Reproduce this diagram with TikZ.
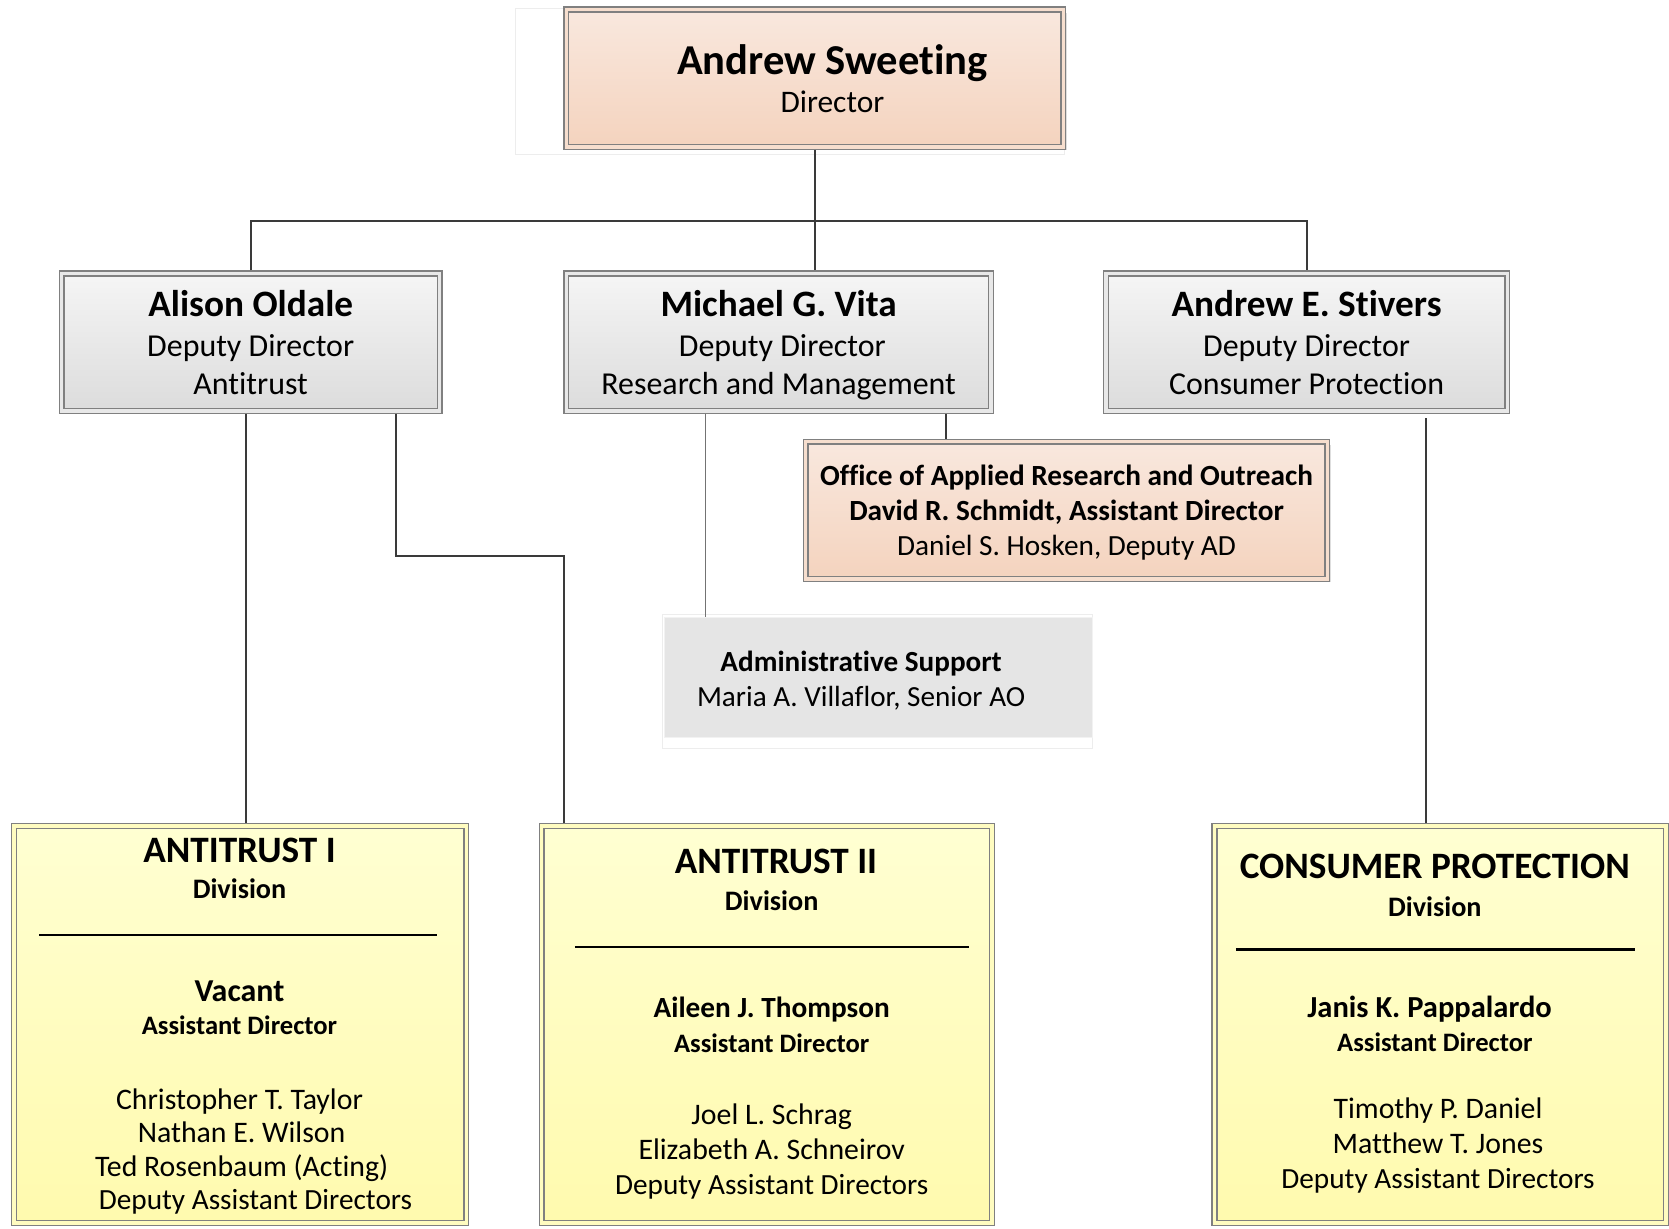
\documentclass[tikz,border=0pt]{standalone}
\usepackage{fontspec}
\setmainfont{Carlito}[Ligatures=NoCommon]
\usetikzlibrary{shadows}
\definecolor{pkT}{HTML}{F9E8DE}
\definecolor{pkB}{HTML}{F4D3BE}
\definecolor{gyT}{HTML}{F5F5F5}
\definecolor{gyB}{HTML}{DCDCDC}
\definecolor{ylT}{HTML}{FFFFD2}
\definecolor{ylB}{HTML}{FFFAAE}
\definecolor{admF}{HTML}{E5E5E5}
\definecolor{bord}{HTML}{808080}
\definecolor{lnk}{HTML}{3A3A3A}
\newcommand\fsz[1]{\fontsize{#1}{#1}\selectfont}
\tikzset{
  box/.style={rectangle, draw=bord, line width=1.3pt, double distance=3.2pt,
    inner sep=0pt, outer sep=2.9pt,
    general shadow={fill=black!13, shadow xshift=3pt, shadow yshift=-3pt}},
  peachbox/.style={box, double=pkB!50!pkT, top color=pkT, bottom color=pkB},
  graybox/.style={box, double=gyB!50!gyT, top color=gyT, bottom color=gyB},
  yellowbox/.style={box, double=ylB!50!ylT, top color=ylT, bottom color=ylB},
  admbox/.style={rectangle, fill=admF, draw=black!5, line width=0.8pt, inner sep=0pt, outer sep=0pt},
  faint/.style={draw=black!7, line width=0.8pt},
  txt/.style={anchor=base, inner sep=0pt, text=black},
  conn/.style={draw=lnk, line width=2pt},
  divline/.style={draw=black, line width=2pt},
}
\begin{document}
\begin{tikzpicture}[x=1pt, y=-1pt]
\useasboundingbox (0,0) rectangle (1568,1153.7);
% faint ghost frames
\draw[faint] (484,8) rectangle (1000,145);
\draw[faint] (622,577) rectangle (1026,703);

% boxes
\node[peachbox, minimum width=467pt, minimum height=129pt] (dir) at (765.5,73.5) {};
\node[graybox, minimum width=355pt, minimum height=129pt] (ado) at (235.5,321.5) {};
\node[graybox, minimum width=399pt, minimum height=129pt] (mgv) at (731.5,321.5) {};
\node[graybox, minimum width=377pt, minimum height=129pt] (sti) at (1227.5,321.5) {};
\node[peachbox, minimum width=490pt, minimum height=129pt] (off) at (1002,479.5) {};
\node[admbox, minimum width=402pt, minimum height=113pt] (adm) at (825,636.5) {};
\node[yellowbox, minimum width=425pt, minimum height=373pt] (at1) at (225.5,962.5) {};
\node[yellowbox, minimum width=423pt, minimum height=373pt] (at2) at (720.5,962.5) {};
\node[yellowbox, minimum width=424pt, minimum height=373pt] (cp) at (1353,962.5) {};

% connectors
\coordinate (bar) at (0,208);
\coordinate (elbow) at (0,522);
\draw[conn] (dir.south) -- (dir.south |- mgv.north);
\draw[conn] (ado.north) -- (ado.north |- bar) -- (sti.north |- bar) -- (sti.north);
\coordinate (m1) at ([xshift=157.5pt]mgv.south);
\coordinate (m2) at ([xshift=-68.5pt]mgv.south);
\draw[conn] (m1) -- (m1 |- off.north);
\draw[conn, line width=1.3pt, draw=black!55] (m2) -- (m2 |- adm.north);
\coordinate (a1) at ([xshift=-4.5pt]ado.south);
\coordinate (a2) at ([xshift=136.5pt]ado.south);
\coordinate (t2) at ([xshift=-190.5pt]at2.north);
\draw[conn] (a1) -- (a1 |- at1.north);
\draw[conn] (a2) -- (a2 |- elbow) -- (t2 |- elbow) -- (t2);
\coordinate (s1) at ([xshift=112.5pt]sti.south);
\draw[conn] ([yshift=-4pt]s1) -- (s1 |- cp.north);

% director
\node[txt] (dirA) at (782,70) {\fsz{40}\bfseries Andrew Sweeting};
\node[txt] (dirB) at (782,106) {\fsz{29.5}Director};
% deputies
\node[txt] (adoA) at (235.5,297) {\fsz{35}\bfseries Alison Oldale};
\node[txt] (adoB) at (235.5,335) {\fsz{30}Deputy Director};
\node[txt] (adoC) at (235.5,371) {\fsz{30}Antitrust};
\node[txt] (mgvA) at (731.5,297) {\fsz{35}\bfseries Michael G. Vita};
\node[txt] (mgvB) at (735,335) {\fsz{30}Deputy Director};
\node[txt] (mgvC) at (731.5,371) {\fsz{30}Research and Management};
\node[txt] (stiA) at (1227.5,297) {\fsz{35}\bfseries Andrew E. Stivers};
\node[txt] (stiB) at (1227.5,335) {\fsz{30}Deputy Director};
\node[txt] (stiC) at (1227.5,371) {\fsz{30}Consumer Protection};
% office
\node[txt] (offA) at (1002,456) {\fsz{27.5}\bfseries Office of Applied Research and Outreach};
\node[txt] (offB) at (1002,489) {\fsz{27.5}\bfseries David R. Schmidt, Assistant Director};
\node[txt] (offC) at (1002,522) {\fsz{27.5}Daniel S. Hosken, Deputy AD};
% admin
\node[txt] (admA) at (809,631) {\fsz{27.4}\bfseries Administrative Support};
\node[txt] (admB) at (809,664) {\fsz{27.4}Maria A. Villaflor, Senior AO};

% Antitrust I
\node[txt] (at1A) at (225,810) {\fsz{35}\bfseries ANTITRUST I};
\node[txt] (at1B) at (225,844) {\fsz{26.5}\bfseries Division};
\draw[divline] (37,878) -- (411,878);
\node[txt] (at1C) at (225,941) {\fsz{30}\bfseries Vacant};
\node[txt] (at1D) at (225,972) {\fsz{25}\bfseries Assistant Director};
\node[txt] (at1E) at (225,1042) {\fsz{28}Christopher T. Taylor};
\node[txt] (at1F) at (227,1073) {\fsz{28}Nathan E. Wilson};
\node[txt] (at1G) at (227,1105) {\fsz{28}Ted Rosenbaum (Acting)};
\node[txt] (at1H) at (240,1136) {\fsz{27.5}Deputy Assistant Directors};

% Antitrust II
\node[txt] (at2A) at (729,821) {\fsz{35}\bfseries ANTITRUST II};
\node[txt] (at2B) at (725,855) {\fsz{26.5}\bfseries Division};
\draw[divline] (540,890) -- (910,890);
\node[txt] (at2C) at (725,956) {\fsz{27.5}\bfseries Aileen J. Thompson};
\node[txt] (at2D) at (725,989) {\fsz{25}\bfseries Assistant Director};
\node[txt] (at2E) at (725,1056) {\fsz{28}Joel L. Schrag};
\node[txt] (at2F) at (725,1089) {\fsz{28}Elizabeth A. Schneirov};
\node[txt] (at2G) at (725,1122) {\fsz{27.5}Deputy Assistant Directors};

% Consumer Protection
\node[txt] (cpA) at (1348,825) {\fsz{35}\bfseries CONSUMER PROTECTION};
\node[txt] (cpB) at (1348,861) {\fsz{26.5}\bfseries Division};
\draw[divline] (1161,892) -- (1536,892);
\node[txt] (cpC) at (1343,956) {\fsz{28.7}\bfseries Janis K. Pappalardo};
\node[txt] (cpD) at (1348,988) {\fsz{25}\bfseries Assistant Director};
\node[txt] (cpE) at (1351,1051) {\fsz{28}Timothy P. Daniel};
\node[txt] (cpF) at (1351,1084) {\fsz{28}Matthew T. Jones};
\node[txt] (cpG) at (1351,1117) {\fsz{27.5}Deputy Assistant Directors};
\end{tikzpicture}
\end{document}
